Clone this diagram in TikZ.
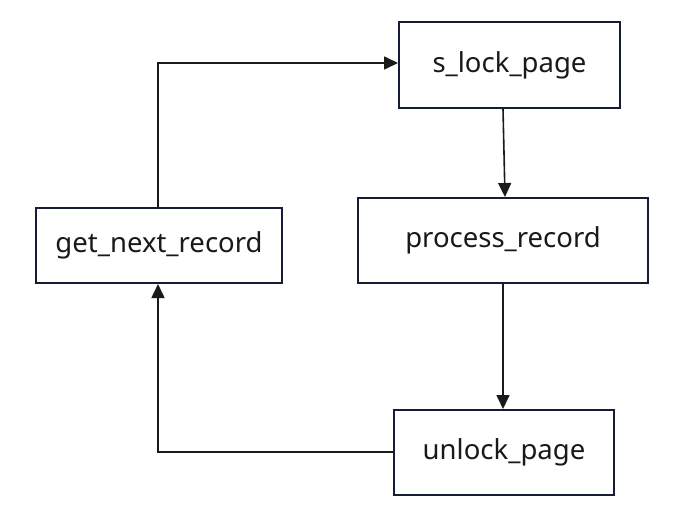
\documentclass[tikz,border=0pt]{standalone}
\usepackage{fontspec}
\setmainfont{Noto Sans}
\usetikzlibrary{arrows.meta}
\definecolor{boxline}{HTML}{141C36}
\definecolor{arrline}{HTML}{1A1A1A}
\tikzset{
  box/.style={draw=boxline, line width=2pt, fill=white, inner sep=0pt, anchor=north west,
    font=\fontsize{27.5}{32}\selectfont, text=black!90},
  conn/.style={draw=arrline, line width=1.6pt, -{Triangle[length=14pt,width=13pt]}}
}
\begin{document}
\begin{tikzpicture}[x=1pt,y=-1pt]
\useasboundingbox[fill=white] (0,0) rectangle (680,528);
\node[box, minimum width=221pt, minimum height=86pt] (slock) at (398,21) {s\_lock\_page};
\node[box, minimum width=290pt, minimum height=85pt] (proc) at (357,197) {process\_record};
\node[box, minimum width=246pt, minimum height=75pt] (getn) at (35,207) {get\_next\_record};
\node[box, minimum width=220pt, minimum height=85pt] (unlock) at (393,409) {unlock\_page};
\coordinate (c1) at (158,63);
\coordinate (c2) at (158,452);
\draw[conn] (slock.south -| 503,0) -- (proc.north -| 505,0);
\draw[conn] (proc.south -| 503,0) -- (unlock.north -| 503,0);
\draw[conn] (unlock.west |- c2) -- (c2) -- (getn.south -| c2);
\draw[conn] (getn.north -| c1) -- (c1) -- (slock.west |- c1);
\end{tikzpicture}
\end{document}
